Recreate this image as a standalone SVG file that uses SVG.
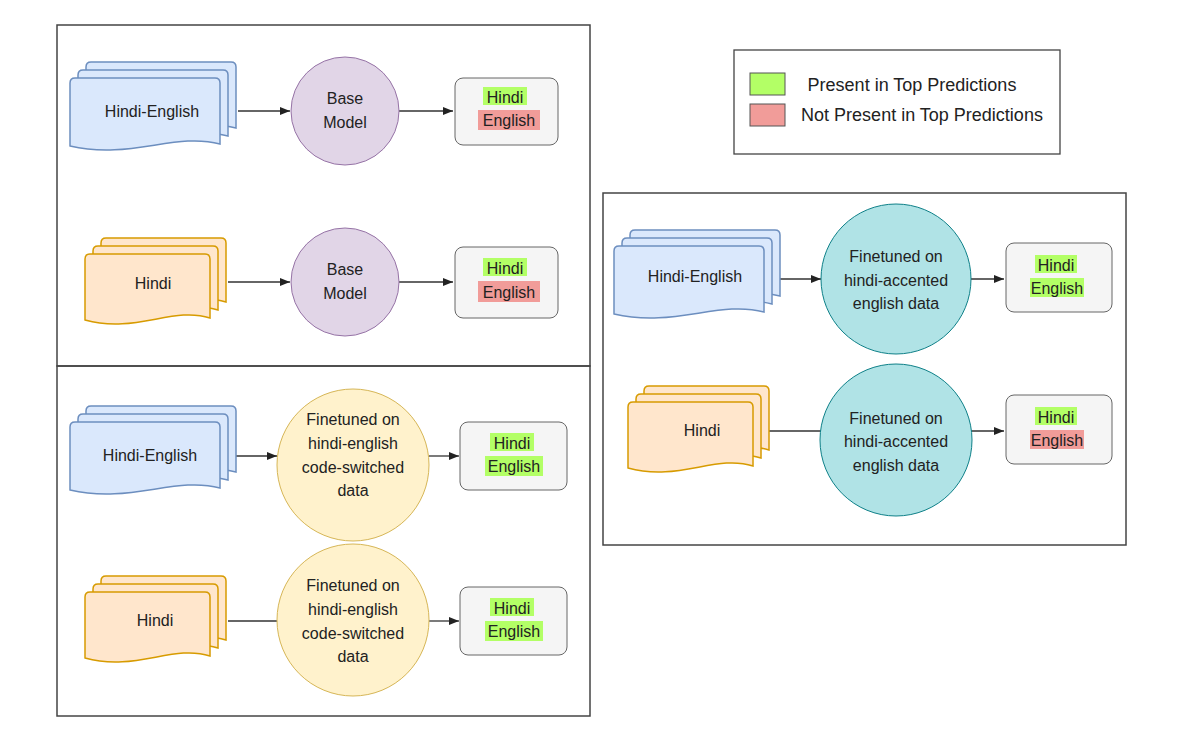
<svg xmlns="http://www.w3.org/2000/svg" xmlns:xlink="http://www.w3.org/1999/xlink" width="1200" height="744" viewBox="0 0 1200 744">
<style>
text{font-family:"Liberation Sans",Arial,sans-serif;font-size:16px;fill:#222;text-anchor:middle;dominant-baseline:central}
.lg{font-size:18px}
.panel{fill:none;stroke:#444;stroke-width:1.5}
.blue{fill:#dae8fc;stroke:#6c8ebf;stroke-width:1.5}
.orange{fill:#ffe6cc;stroke:#d79b00;stroke-width:1.5}
.purple{fill:#e1d5e7;stroke:#9673a6;stroke-width:1}
.yellow{fill:#fff2cc;stroke:#d6b656;stroke-width:1}
.teal{fill:#b0e3e6;stroke:#0e8088;stroke-width:1}
.out{fill:#f5f5f5;stroke:#666;stroke-width:1}
.g{fill:#b3ff66}
.r{fill:#f19c99}
.ln{stroke:#333;stroke-width:1.3;fill:none}
</style>
<defs>
<path id="docB" d="M5,0 L145,0 Q150,0 150,5 L150,66 C105,54 60,82 0,68 L0,5 Q0,0 5,0 Z"/>
<path id="docO" d="M5,0 L120,0 Q125,0 125,5 L125,64 C88,52 50,80 0,66 L0,5 Q0,0 5,0 Z"/>
<marker id="ar" viewBox="0 0 10 10" refX="10" refY="5" markerWidth="8" markerHeight="8" orient="auto"><path d="M0,1 L10,5 L0,9 Z" fill="#222"/></marker>
</defs>
<rect width="1200" height="744" fill="#fff"/>
<rect class="panel" x="57" y="25" width="533" height="341"/>
<rect class="panel" x="57" y="366" width="533" height="350"/>
<rect class="panel" x="603" y="193" width="523" height="352"/>
<g id="legend">
<rect x="734" y="50" width="326" height="104" fill="#fff" stroke="#444" stroke-width="1.3"/>
<rect x="750" y="73" width="35" height="22" class="g" stroke="#555"/>
<rect x="750" y="104" width="35" height="22" class="r" stroke="#555"/>
<text class="lg" x="912" y="85">Present in Top Predictions</text>
<text class="lg" x="922" y="115">Not Present in Top Predictions</text>
</g>
<g id="connectors">
<line class="ln" x1="238" y1="111" x2="290" y2="111" marker-end="url(#ar)"/>
<line class="ln" x1="399" y1="111" x2="453" y2="111" marker-end="url(#ar)"/>
<line class="ln" x1="228" y1="282" x2="290" y2="282" marker-end="url(#ar)"/>
<line class="ln" x1="399" y1="282" x2="453" y2="282" marker-end="url(#ar)"/>
<line class="ln" x1="236" y1="456" x2="277" y2="456" marker-end="url(#ar)"/>
<line class="ln" x1="429" y1="456" x2="459" y2="456" marker-end="url(#ar)"/>
<line class="ln" x1="228" y1="621" x2="278" y2="621"/>
<line class="ln" x1="429" y1="621" x2="459" y2="621" marker-end="url(#ar)"/>
<line class="ln" x1="778" y1="279" x2="821" y2="279" marker-end="url(#ar)"/>
<line class="ln" x1="971" y1="279" x2="1004" y2="279" marker-end="url(#ar)"/>
<line class="ln" x1="769" y1="431" x2="822" y2="431"/>
<line class="ln" x1="971" y1="431" x2="1004" y2="431" marker-end="url(#ar)"/>
</g>
<g id="p1-doc1"><use href="#docB" class="blue" x="86" y="62"/><use href="#docB" class="blue" x="78" y="70"/><use href="#docB" class="blue" x="70" y="78"/><text x="152" y="111">Hindi-English</text></g>
<g id="p1-model1"><circle class="purple" cx="345" cy="111" r="54"/><text x="345" y="98">Base</text><text x="345" y="122">Model</text></g>
<g id="p1-out1"><rect class="out" x="455" y="78" width="103" height="67" rx="8"/><rect class="g" x="483" y="87" width="44" height="18"/><rect class="r" x="478" y="110" width="62" height="20"/><text x="505" y="97">Hindi</text><text x="509" y="120">English</text></g>
<g id="p1-doc2"><use href="#docO" class="orange" x="101" y="238"/><use href="#docO" class="orange" x="93" y="246"/><use href="#docO" class="orange" x="85" y="254"/><text x="153" y="283">Hindi</text></g>
<g id="p1-model2"><circle class="purple" cx="345" cy="282" r="54"/><text x="345" y="269">Base</text><text x="345" y="293">Model</text></g>
<g id="p1-out2"><rect class="out" x="455" y="247" width="103" height="71" rx="8"/><rect class="g" x="483" y="258" width="44" height="18"/><rect class="r" x="478" y="281" width="62" height="21"/><text x="505" y="268">Hindi</text><text x="509" y="292">English</text></g>
<g id="p2-doc1"><use href="#docB" class="blue" x="86" y="406"/><use href="#docB" class="blue" x="78" y="414"/><use href="#docB" class="blue" x="70" y="422"/><text x="150" y="455">Hindi-English</text></g>
<g id="p2-model1"><circle class="yellow" cx="353" cy="465" r="76"/><text x="353" y="419">Finetuned on</text><text x="353" y="443">hindi-english</text><text x="353" y="467">code-switched</text><text x="353" y="490">data</text></g>
<g id="p2-out1"><rect class="out" x="460" y="422" width="107" height="68" rx="8"/><rect class="g" x="490" y="433" width="44" height="18"/><rect class="g" x="485" y="456" width="58" height="20"/><text x="512" y="443">Hindi</text><text x="514" y="466">English</text></g>
<g id="p2-doc2"><use href="#docO" class="orange" x="101" y="576"/><use href="#docO" class="orange" x="93" y="584"/><use href="#docO" class="orange" x="85" y="592"/><text x="155" y="620">Hindi</text></g>
<g id="p2-model2"><circle class="yellow" cx="353" cy="620" r="76"/><text x="353" y="585">Finetuned on</text><text x="353" y="609">hindi-english</text><text x="353" y="633">code-switched</text><text x="353" y="656">data</text></g>
<g id="p2-out2"><rect class="out" x="460" y="587" width="107" height="68" rx="8"/><rect class="g" x="490" y="598" width="44" height="18"/><rect class="g" x="485" y="621" width="58" height="20"/><text x="512" y="608">Hindi</text><text x="514" y="631">English</text></g>
<g id="r-doc1"><use href="#docB" class="blue" x="630" y="230"/><use href="#docB" class="blue" x="622" y="238"/><use href="#docB" class="blue" x="614" y="246"/><text x="695" y="276">Hindi-English</text></g>
<g id="r-model1"><circle class="teal" cx="896" cy="279" r="75"/><text x="896" y="256">Finetuned on</text><text x="896" y="280">hindi-accented</text><text x="896" y="303">english data</text></g>
<g id="r-out1"><rect class="out" x="1006" y="243" width="106" height="69" rx="8"/><rect class="g" x="1035" y="255" width="42" height="18"/><rect class="g" x="1030" y="278" width="54" height="19"/><text x="1056" y="265">Hindi</text><text x="1057" y="288">English</text></g>
<g id="r-doc2"><use href="#docO" class="orange" x="644" y="386"/><use href="#docO" class="orange" x="636" y="394"/><use href="#docO" class="orange" x="628" y="402"/><text x="702" y="430">Hindi</text></g>
<g id="r-model2"><circle class="teal" cx="896" cy="440" r="76"/><text x="896" y="418">Finetuned on</text><text x="896" y="441">hindi-accented</text><text x="896" y="465">english data</text></g>
<g id="r-out2"><rect class="out" x="1006" y="395" width="106" height="69" rx="8"/><rect class="g" x="1035" y="407" width="42" height="18"/><rect class="r" x="1030" y="430" width="54" height="19"/><text x="1056" y="417">Hindi</text><text x="1057" y="440">English</text></g>
</svg>
